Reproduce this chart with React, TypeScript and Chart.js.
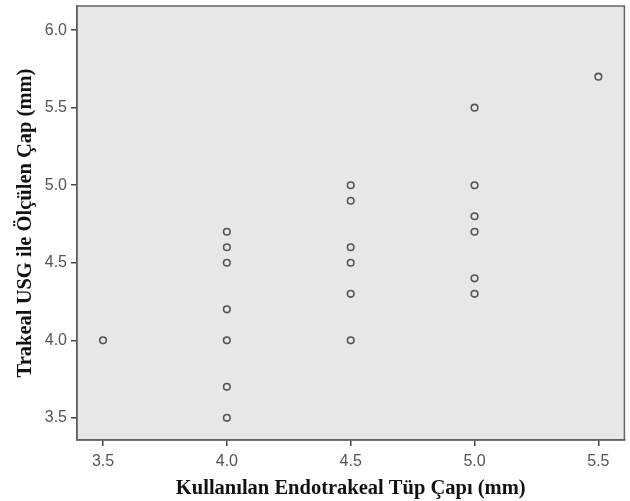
import React, { useEffect, useRef } from "react";
import { Chart, registerables } from "chart.js";

Chart.register(...registerables);

const xTitle = "Kullanılan Endotrakeal Tüp Çapı (mm)";
const yTitle = "Trakeal USG ile Ölçülen Çap (mm)";
const tubeSizes = [3.5, 4.0, 4.0, 4.0, 4.0, 4.0, 4.0, 4.0, 4.5, 4.5, 4.5, 4.5, 4.5, 4.5, 5.0, 5.0, 5.0, 5.0, 5.0, 5.0, 5.5];
const usgDiameters = [4.0, 4.7, 4.6, 4.5, 4.2, 4.0, 3.7, 3.5, 5.0, 4.9, 4.6, 4.5, 4.3, 4.0, 5.5, 5.0, 4.8, 4.7, 4.4, 4.3, 5.7];
const xTicks = [3.5, 4.0, 4.5, 5.0, 5.5];
const yTicks = [3.5, 4.0, 4.5, 5.0, 5.5, 6.0];

const plotBg = {
  id: "plotBg",
  beforeDraw(chart: any) {
    const { ctx, chartArea: a } = chart;
    ctx.save();
    ctx.fillStyle = "#e7e7e7";
    ctx.fillRect(a.left, a.top, a.right - a.left, a.bottom - a.top);
    ctx.restore();
  },
  afterDraw(chart: any) {
    const { ctx, chartArea: a } = chart;
    ctx.save();
    ctx.strokeStyle = "#666";
    ctx.lineWidth = 1.5;
    ctx.strokeRect(a.left, a.top, a.right - a.left, a.bottom - a.top);
    ctx.restore();
  },
};

export default function App() {
  const ref = useRef<HTMLCanvasElement>(null);
  useEffect(() => {
    const data = tubeSizes.map((x, i) => ({ x, y: usgDiameters[i] }));
    const chart = new Chart(ref.current!, {
      type: "scatter",
      data: {
        datasets: [
          {
            data,
            pointRadius: 3.3,
            pointBorderWidth: 1.6,
            pointBorderColor: "#555",
            pointBackgroundColor: "rgba(0,0,0,0)",
          },
        ],
      },
      options: {
        animation: false,
        responsive: false,
        devicePixelRatio: 1,
        layout: { padding: { top: 6, right: 5, left: 0, bottom: 0 } },
        plugins: { legend: { display: false }, tooltip: { enabled: false } },
        scales: {
          x: {
            type: "linear",
            min: 3.395,
            max: 5.605,
            afterBuildTicks: (s: any) => {
              s.ticks = xTicks.map((v) => ({ value: v }));
            },
            afterFit: (s: any) => {
              s.height = 61;
              s.paddingLeft = 0;
              s.paddingRight = 0;
            },
            ticks: {
              callback: (v: any) => Number(v).toFixed(1),
              color: "#555",
              font: { family: "Liberation Sans", size: 16 },
              padding: 6,
            },
            grid: { drawOnChartArea: false, tickLength: 6, color: "#444", lineWidth: 1.5 },
            border: { color: "#555", width: 1.5 },
            title: {
              display: true,
              text: xTitle,
              color: "#111",
              font: { family: "Liberation Serif", size: 20.5, weight: "bold" },
              padding: { top: 0, bottom: 0 },
            },
          },
          y: {
            type: "linear",
            min: 3.357,
            max: 6.156,
            afterBuildTicks: (s: any) => {
              s.ticks = yTicks.map((v) => ({ value: v }));
            },
            afterFit: (s: any) => {
              s.width = 77;
              s.paddingTop = 0;
              s.paddingBottom = 0;
            },
            ticks: {
              callback: (v: any) => Number(v).toFixed(1),
              color: "#555",
              font: { family: "Liberation Sans", size: 16 },
              padding: 4,
            },
            grid: { drawOnChartArea: false, tickLength: 6, color: "#444", lineWidth: 1.5 },
            border: { color: "#555", width: 1.5 },
            title: {
              display: true,
              text: yTitle,
              color: "#111",
              font: { family: "Liberation Serif", size: 20.5, weight: "bold" },
              padding: { top: 13, bottom: 0 },
            },
          },
        },
      },
      plugins: [plotBg],
    } as any);
    return () => chart.destroy();
  }, []);
  return (
    <div style={{ position: "fixed", left: 0, top: 0, width: 630, height: 501, background: "#fff" }}>
      <canvas ref={ref} width={630} height={501} />
    </div>
  );
}
